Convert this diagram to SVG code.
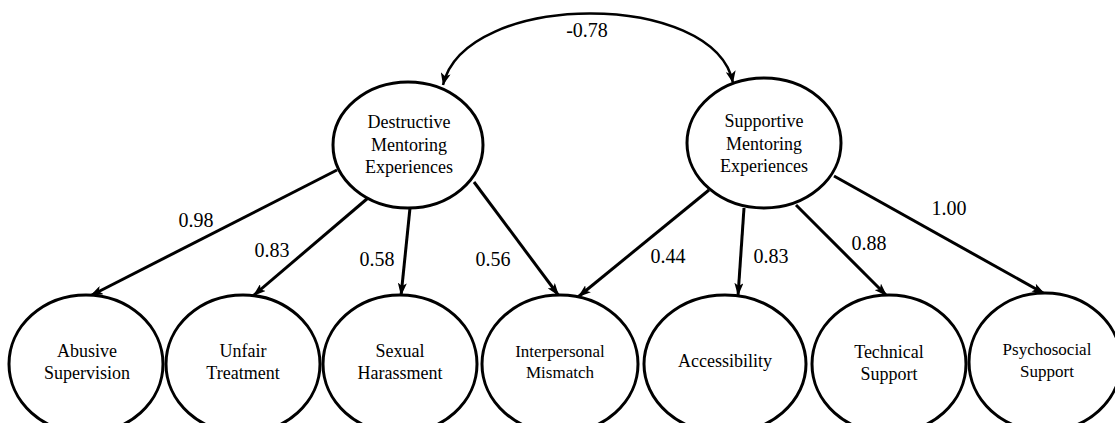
<svg xmlns="http://www.w3.org/2000/svg" width="1115" height="423" viewBox="0 0 1115 423">
<defs>
<style>
.node{fill:#fff;stroke:#000;stroke-width:3}
.lbl{font-family:"Liberation Serif","Times New Roman",serif;font-size:18px;fill:#000;text-anchor:middle}
.sm{font-size:17px}
.w{font-family:"Liberation Serif","Times New Roman",serif;font-size:20px;fill:#000;text-anchor:middle}
.edge{fill:none;stroke:#000;stroke-width:3;marker-end:url(#ah)}
.cov{fill:none;stroke:#000;stroke-width:2.5;marker-start:url(#ah2);marker-end:url(#ah2)}
</style>
<marker id="ah" viewBox="0 0 13 9" refX="13" refY="4.5" markerWidth="13" markerHeight="9" markerUnits="userSpaceOnUse" orient="auto">
<path d="M0,0 L13,4.5 L0,9 L3,4.5 z" fill="#000"/>
</marker>
<marker id="ah2" viewBox="0 0 12 10" refX="12" refY="5" markerWidth="12" markerHeight="10" markerUnits="userSpaceOnUse" orient="auto-start-reverse">
<path d="M0,0 L12,5 L0,10 L3,5 z" fill="#000"/>
</marker>
</defs>
<rect width="1115" height="423" fill="#fff"/>
<g id="connectors">
<path class="cov" d="M443,85 C465,-10 715,-10 733,83"/>
<line class="edge" x1="337" y1="170" x2="90" y2="296"/>
<line class="edge" x1="368" y1="198" x2="253" y2="296"/>
<line class="edge" x1="410" y1="208" x2="401" y2="296"/>
<line class="edge" x1="474" y1="182" x2="559" y2="296"/>
<line class="edge" x1="709" y1="190" x2="578" y2="297"/>
<line class="edge" x1="744" y1="208" x2="738" y2="296"/>
<line class="edge" x1="796" y1="205" x2="887" y2="296"/>
<line class="edge" x1="834" y1="176" x2="1045" y2="294"/>
<text class="w" x="587" y="37">-0.78</text>
<text class="w" x="196" y="227">0.98</text>
<text class="w" x="272" y="257">0.83</text>
<text class="w" x="377" y="266">0.58</text>
<text class="w" x="493" y="266">0.56</text>
<text class="w" x="668" y="263">0.44</text>
<text class="w" x="771" y="263">0.83</text>
<text class="w" x="869" y="250">0.88</text>
<text class="w" x="949" y="215">1.00</text>
</g>
<g id="destructive">
<ellipse class="node" cx="408" cy="145" rx="75" ry="63"/>
<text class="lbl" x="409" y="128">Destructive</text>
<text class="lbl" x="409" y="151">Mentoring</text>
<text class="lbl" x="409" y="173">Experiences</text>
</g>
<g id="supportive">
<ellipse class="node" cx="764" cy="143" rx="77" ry="65"/>
<text class="lbl" x="764" y="127">Supportive</text>
<text class="lbl" x="764" y="150">Mentoring</text>
<text class="lbl" x="764" y="172">Experiences</text>
</g>
<g id="abusive">
<ellipse class="node" cx="86" cy="364" rx="77" ry="69"/>
<text class="lbl" x="87" y="357">Abusive</text>
<text class="lbl" x="87" y="379">Supervision</text>
</g>
<g id="unfair">
<ellipse class="node" cx="243" cy="364" rx="77" ry="69"/>
<text class="lbl" x="243" y="357">Unfair</text>
<text class="lbl" x="243" y="379">Treatment</text>
</g>
<g id="sexual">
<ellipse class="node" cx="400" cy="364" rx="77" ry="69"/>
<text class="lbl" x="400" y="357">Sexual</text>
<text class="lbl" x="400" y="379">Harassment</text>
</g>
<g id="interpersonal">
<ellipse class="node" cx="560" cy="364" rx="78" ry="69"/>
<text class="lbl sm" x="560" y="357">Interpersonal</text>
<text class="lbl sm" x="560" y="378">Mismatch</text>
</g>
<g id="accessibility">
<ellipse class="node" cx="725" cy="364" rx="81" ry="69"/>
<text class="lbl" x="725" y="367">Accessibility</text>
</g>
<g id="technical">
<ellipse class="node" cx="889" cy="364" rx="77" ry="69"/>
<text class="lbl" x="889" y="358">Technical</text>
<text class="lbl" x="889" y="380">Support</text>
</g>
<g id="psychosocial">
<ellipse class="node" cx="1045" cy="362" rx="76" ry="69"/>
<text class="lbl sm" x="1047" y="355">Psychosocial</text>
<text class="lbl sm" x="1047" y="377">Support</text>
</g>
</svg>
